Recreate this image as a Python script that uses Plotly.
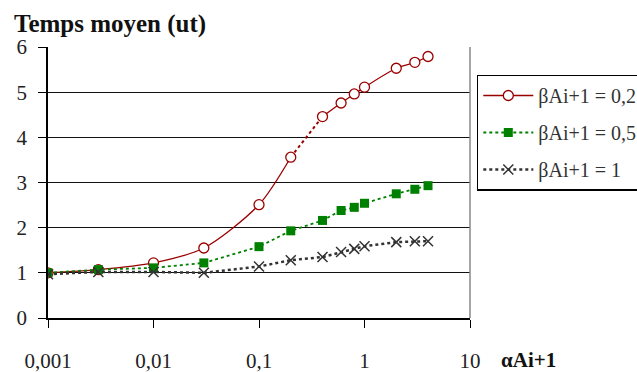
import plotly.graph_objects as go

alpha = [0.001, 0.003, 0.01, 0.03, 0.1, 0.2, 0.4, 0.6, 0.8, 1, 2, 3, 4]
t_02 = [1.00, 1.07, 1.22, 1.55, 2.51, 3.56, 4.46, 4.76, 4.96, 5.11, 5.53, 5.66, 5.79]
t_05 = [1.00, 1.07, 1.11, 1.22, 1.58, 1.93, 2.16, 2.38, 2.45, 2.54, 2.75, 2.85, 2.93]
t_1 = [0.97, 1.02, 1.02, 1.00, 1.14, 1.28, 1.35, 1.46, 1.53, 1.59, 1.68, 1.70, 1.70]
names = ["βAi+1 = 0,2", "βAi+1 = 0,5", "βAi+1 = 1"]
x_tickvals = [0.001, 0.01, 0.1, 1, 10]
x_ticktext = ["0,001", "0,01", "0,1", "1", "10"]
y_tickvals = [0, 1, 2, 3, 4, 5, 6]

# figure is a bit wider than the 637px window so the legend box runs off the
# right edge, as in the reference (page overflow is hidden)
W, H = 665, 372
# target plot-area edges in window pixels
PX_L, PX_R, PX_T, PX_B = 48, 470, 47.3, 318.3
L = PX_L
R = W - PX_R
T = PX_T
B = H - PX_B
FONT = "'Liberation Serif', 'DejaVu Serif', serif"
RED = "#990000"
GREEN = "#008000"
DARK = "#333333"

fig = go.Figure()

# red series: solid spline, dotted segment between 0.2 and 0.4
split = alpha.index(0.2)
fig.add_trace(go.Scatter(
    x=alpha[split:split + 2], y=t_02[split:split + 2], mode="lines",
    line=dict(color=RED, width=2, dash="dot"), showlegend=False,
    legendgroup="a", hoverinfo="skip"))
fig.add_trace(go.Scatter(
    x=alpha[:split + 1], y=t_02[:split + 1], mode="lines+markers", name=names[0],
    legendgroup="a",
    line=dict(color=RED, width=1.3, shape="spline", smoothing=0.8),
    marker=dict(symbol="circle", size=10, color="white", line=dict(color=RED, width=1.3))))
fig.add_trace(go.Scatter(
    x=alpha[split + 1:], y=t_02[split + 1:], mode="lines+markers", showlegend=False,
    legendgroup="a",
    line=dict(color=RED, width=1.3, shape="spline", smoothing=0.8),
    marker=dict(symbol="circle", size=10, color="white", line=dict(color=RED, width=1.3))))

fig.add_trace(go.Scatter(
    x=alpha, y=t_05, mode="lines+markers", name=names[1], legendgroup="b",
    line=dict(color=GREEN, width=1.8, dash="dot"),
    marker=dict(symbol="square", size=9, color=GREEN)))

fig.add_trace(go.Scatter(
    x=alpha, y=t_1, mode="lines+markers", name=names[2], legendgroup="c",
    line=dict(color=DARK, width=2.5, dash="dot"),
    marker=dict(symbol="x-thin", size=10, color=DARK, line=dict(color=DARK, width=1.5))))

pw = PX_R - PX_L
ph = PX_B - PX_T


def px_x(p):
    return (p - PX_L) / pw


def px_y(p):
    return (PX_B - p) / ph


fig.update_layout(
    width=W, height=H,
    margin=dict(l=L, r=R, t=T, b=B, autoexpand=False),
    paper_bgcolor="white", plot_bgcolor="white",
    font=dict(family=FONT, size=21, color="#222222"),
    showlegend=True,
    legend=dict(
        x=px_x(477), y=px_y(75), xanchor="left", yanchor="top",
        bordercolor="black", borderwidth=1.3, bgcolor="white",
        font=dict(family=FONT, size=20, color="#333333"),
        tracegroupgap=8, traceorder="grouped", itemwidth=50,
    ),
    xaxis=dict(
        type="log", range=[-3, 1], tickvals=x_tickvals, ticktext=x_ticktext,
        showgrid=False, zeroline=False, automargin=False,
        showline=True, linecolor="black", linewidth=1.5,
        ticks="outside", ticklen=8, tickcolor="black", tickwidth=1.2,
        ticklabelstandoff=15,
        tickfont=dict(family=FONT, size=21, color="#222222"),
    ),
    yaxis=dict(
        range=[0, 6], tickvals=y_tickvals, automargin=False,
        showgrid=True, gridcolor="#111111", gridwidth=1.2,
        zeroline=False,
        showline=True, linecolor="black", linewidth=1.5,
        ticks="outside", ticklen=8, tickcolor="black", tickwidth=1.2,
        ticklabelstandoff=7,
        tickfont=dict(family=FONT, size=21, color="#222222"),
    ),
    shapes=[dict(type="line", xref="paper", yref="paper", x0=1, x1=1, y0=0, y1=1,
                 line=dict(color="#888888", width=1.5))],
    annotations=[
        dict(text="<b>Temps moyen (ut)</b>", xref="paper", yref="paper",
             x=px_x(12), y=px_y(24), xanchor="left", yanchor="middle",
             showarrow=False, font=dict(family=FONT, size=25, color="#111111")),
        dict(text="<b>αAi+1</b>", xref="paper", yref="paper",
             x=px_x(528), y=px_y(360), xanchor="center", yanchor="middle",
             showarrow=False, font=dict(family=FONT, size=21, color="#111111")),
    ],
)

page_css = ("document.body.style.margin='0';"
            "document.body.style.overflow='hidden';"
            "document.documentElement.style.overflow='hidden';")

fig.write_html("out.html", post_script=page_css,
               config={"displayModeBar": False})
